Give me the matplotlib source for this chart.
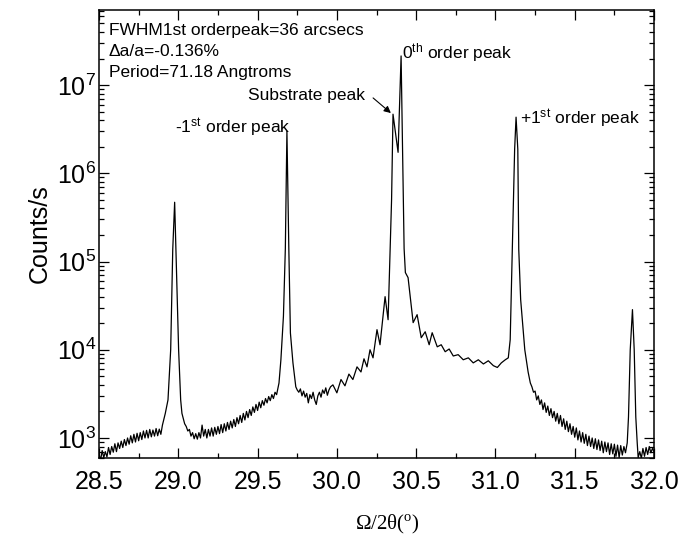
import matplotlib
matplotlib.use("Agg")
import matplotlib.pyplot as plt
from matplotlib.ticker import LogLocator, MultipleLocator, NullFormatter

plt.rcParams['font.family'] = ['Liberation Sans', 'DejaVu Sans']
plt.rcParams['mathtext.fontset'] = 'custom'
plt.rcParams['mathtext.rm'] = 'Liberation Sans'
plt.rcParams['mathtext.it'] = 'Liberation Sans:italic'

# Omega/2theta scan, values
two_theta = [
    # background left of the -2 peak
    28.50, 28.51, 28.52, 28.53, 28.54, 28.55, 28.56, 28.57, 28.58, 28.59,
    28.60, 28.61, 28.62, 28.63, 28.64, 28.65, 28.66, 28.67, 28.68, 28.69,
    28.70, 28.71, 28.72, 28.73, 28.74, 28.75, 28.76, 28.77, 28.78, 28.79,
    28.80, 28.81, 28.82, 28.83, 28.84, 28.85, 28.86, 28.87, 28.88, 28.89,
    28.90,
    # -2 peak
    28.918, 28.935, 28.952, 28.965, 28.977, 28.985, 29.002, 29.015, 29.023,
    # background between -2 and -1
    29.03, 29.04, 29.05, 29.06, 29.07, 29.08, 29.09, 29.10, 29.11, 29.12,
    29.13, 29.14, 29.15, 29.16, 29.17, 29.18, 29.19, 29.20, 29.21, 29.22,
    29.23, 29.24, 29.25, 29.26, 29.27, 29.28, 29.29, 29.30, 29.31, 29.32,
    29.33, 29.34, 29.35, 29.36, 29.37, 29.38, 29.39, 29.40, 29.41, 29.42,
    29.43, 29.44, 29.45, 29.46, 29.47, 29.48, 29.49, 29.50, 29.51, 29.52,
    29.53, 29.54, 29.55, 29.56, 29.57, 29.58, 29.59, 29.60, 29.61, 29.62,
    # -1 peak
    29.635, 29.647, 29.663, 29.675, 29.685, 29.697, 29.707, 29.723, 29.741,
    29.75, 29.76, 29.77, 29.78, 29.79, 29.80, 29.81, 29.82, 29.83, 29.84,
    29.85, 29.86, 29.87, 29.88, 29.89, 29.90, 29.91, 29.92, 29.93, 29.94,
    29.95, 29.96,
    # fringes, substrate and 0th peak
    29.975, 30.000, 30.026, 30.051, 30.076, 30.101, 30.127, 30.152, 30.171, 30.190,
    30.209, 30.228, 30.253, 30.272, 30.304, 30.323, 30.336, 30.345, 30.354, 30.386,
    30.405, 30.415, 30.424, 30.432, 30.449, 30.481, 30.506, 30.532, 30.557, 30.582,
    30.601, 30.633, 30.658, 30.683, 30.708, 30.734, 30.765, 30.797, 30.829, 30.860,
    30.892, 30.924, 30.955, 30.987, 31.012, 31.037, 31.062, 31.081, 31.093, 31.106,
    # +1 peak
    31.121, 31.130, 31.141, 31.147, 31.159, 31.185, 31.206, 31.22,
    # tail right of +1
    31.23, 31.24, 31.25, 31.26, 31.27, 31.28, 31.29, 31.30, 31.31, 31.32,
    31.33, 31.34, 31.35, 31.36, 31.37, 31.38, 31.39, 31.40, 31.41, 31.42,
    31.43, 31.44, 31.45, 31.46, 31.47, 31.48, 31.49, 31.50, 31.51, 31.52,
    31.53, 31.54, 31.55, 31.56, 31.57, 31.58, 31.59, 31.60, 31.61, 31.62,
    31.63, 31.64, 31.65, 31.66, 31.67, 31.68, 31.69, 31.70, 31.71, 31.72,
    31.73, 31.74, 31.75, 31.76, 31.77, 31.78, 31.79, 31.80, 31.81, 31.82,
    # +2 peak
    31.831, 31.839, 31.850, 31.864, 31.875, 31.885, 31.894,
    31.90, 31.91, 31.92, 31.93, 31.94, 31.95, 31.96, 31.97, 31.98, 31.99,
    32.00,
]
counts = [
    660, 560, 720, 600, 700, 610, 780, 650, 800, 690,
    860, 700, 880, 760, 920, 780, 960, 820, 1000, 850,
    1060, 880, 1100, 900, 1130, 930, 1150, 960, 1200, 1000,
    1220, 1000, 1250, 1030, 1230, 1050, 1280, 1060, 1260, 1100,
    1400,
    1900, 2700, 10000, 137000, 470000, 137000, 10000, 2700, 1900,
    1700, 1450, 1350, 1200, 1250, 1050, 1150, 980, 1120, 970,
    1150, 1000, 1400, 1050, 1250, 1000, 1250, 1050, 1300, 1050,
    1320, 1100, 1350, 1120, 1420, 1150, 1450, 1200, 1500, 1250,
    1550, 1300, 1620, 1350, 1700, 1450, 1800, 1500, 1900, 1600,
    2000, 1700, 2100, 1800, 2250, 1950, 2400, 2050, 2550, 2200,
    2650, 2350, 2800, 2500, 2950, 2650, 3100, 2800, 3300, 3100,
    4200, 7700, 24000, 140000, 3.0e6, 140000, 15500, 7100, 3800,
    3500, 3300, 3600, 3000, 3400, 2900, 3200, 2500, 3100, 2800,
    3300, 2700, 2400, 3000, 3300, 2900, 3500, 3200, 3700, 3050,
    3500, 3800,
    4000, 3250, 4600, 3900, 5300, 4600, 6400, 5600, 7900, 6400,
    10000, 8100, 16900, 11400, 40000, 21900, 137000, 506000, 4.68e6, 1.73e6,
    2.14e7, 1.5e6, 140000, 75000, 65700, 20300, 25000, 13700, 16000, 11400,
    15600, 10800, 11400, 9500, 10200, 8500, 8800, 7700, 8100, 7100,
    7700, 6900, 7500, 6600, 6300, 7100, 7700, 8100, 13000, 137000,
    1.87e6, 4.33e6, 1.87e6, 137000, 37000, 10000, 5600, 4200,
    3800, 3300, 3400, 2700, 3000, 2400, 2700, 2100, 2500, 1950,
    2300, 1800, 2150, 1700, 2000, 1550, 1900, 1450, 1800, 1350,
    1650, 1250, 1550, 1180, 1450, 1100, 1350, 1020, 1300, 950,
    1200, 900, 1150, 870, 1100, 820, 1050, 800, 1000, 760,
    980, 740, 950, 720, 920, 680, 900, 700, 880, 650,
    860, 660, 850, 620, 830, 600, 820, 640, 800, 680,
    880, 1730, 10000, 28500, 10000, 1730, 880,
    600, 700, 590, 760, 620, 780, 650, 800, 680, 760,
    700,
]

info_lines = ["FWHM1st orderpeak=36 arcsecs", "\u0394a/a=-0.136%", "Period=71.18 Angtroms"]
substrate_peak = (30.354, 4.6e6)

fig = plt.figure(figsize=(6.8, 5.38), dpi=100)
ax = fig.add_axes([0.1456, 0.1487, 0.8162, 0.8327])
ax.plot(two_theta, counts, color="black", lw=0.9)

ax.set_yscale("log")
ax.set_xlim(28.5, 32.0)
ax.set_ylim(593, 7.1e7)
ax.xaxis.set_major_locator(MultipleLocator(0.5))
ax.xaxis.set_minor_locator(MultipleLocator(0.25))
ax.xaxis.set_major_formatter(plt.FuncFormatter(lambda v, p: f"{v:.1f}"))
ax.yaxis.set_major_locator(LogLocator(base=10))
ax.yaxis.set_minor_locator(LogLocator(base=10, subs=range(2, 10)))
ax.yaxis.set_minor_formatter(NullFormatter())

ax.tick_params(which="both", direction="in", top=True, right=True, width=0.9)
ax.tick_params(which="major", length=7, labelsize=18)
ax.tick_params(axis="x", which="major", pad=9)
ax.tick_params(axis="y", which="major", pad=2)
ax.tick_params(which="minor", length=3.5)
for s in ax.spines.values():
    s.set_linewidth(1.1)

ax.set_ylabel("Counts/s", fontsize=18, labelpad=4)
ax.set_xlabel("\u03a9/2\u03b8($^\\mathregular{o}$)", family="Liberation Serif", fontsize=15)
ax.xaxis.set_label_coords(0.52, -0.123)

for i, line in enumerate(info_lines):
    ax.text(0.018, 0.944 - i * 0.047, line, transform=ax.transAxes, fontsize=12.5, va="baseline")

ax.text(0.479, 0.799, "Substrate peak", transform=ax.transAxes, fontsize=12.5, ha="right", va="baseline")
ax.annotate("", xy=substrate_peak, xytext=(30.215, 7.5e6),
            arrowprops=dict(arrowstyle="-|>", color="black", lw=0.8, mutation_scale=10))
ax.text(0.137, 0.724, "-1$^\\mathregular{st}$ order peak", transform=ax.transAxes, fontsize=12.5, va="baseline")
ax.text(0.546, 0.892, "0$^\\mathregular{th}$ order peak", transform=ax.transAxes, fontsize=12.5, va="baseline")
ax.text(0.759, 0.746, "+1$^\\mathregular{st}$ order peak", transform=ax.transAxes, fontsize=12.5, va="baseline")

fig.savefig("out.png", dpi=100)
